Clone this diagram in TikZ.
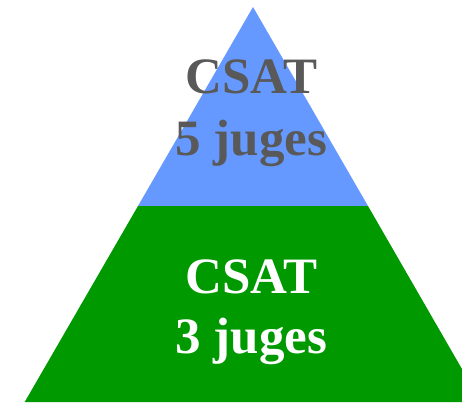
\documentclass[tikz,border=0pt]{standalone}
\usepackage{fontspec}
\setmainfont{Liberation Serif}
\definecolor{topblue}{HTML}{6699FF}
\definecolor{botgreen}{HTML}{009900}
\definecolor{txtgray}{HTML}{595959}
\begin{document}
\begin{tikzpicture}[x=1pt,y=1pt,
  lbl/.style={anchor=base,inner sep=0pt,font=\fontsize{51}{60}\selectfont\bfseries}]
\useasboundingbox (0,0) rectangle (462,402);
\clip (0,0) rectangle (462,402);
\fill[white] (0,0) rectangle (462,402);
\coordinate (apex) at (253,395);
\coordinate (ml) at (138,196);
\coordinate (mr) at (368,196);
\coordinate (bl) at (24.7,0);
\coordinate (br) at (481,0);
\fill[topblue] (apex) -- (mr) -- (ml) -- cycle;
\fill[botgreen] (ml) -- (mr) -- (br) -- (bl) -- cycle;
\node[lbl,text=txtgray] (t1) at (251.5,308) {CSAT};
\node[lbl,text=txtgray] (t2) at (251.5,247) {5 juges};
\node[lbl,text=white] (b1) at (251.5,109) {CSAT};
\node[lbl,text=white] (b2) at (251.5,49) {3 juges};
\end{tikzpicture}
\end{document}
